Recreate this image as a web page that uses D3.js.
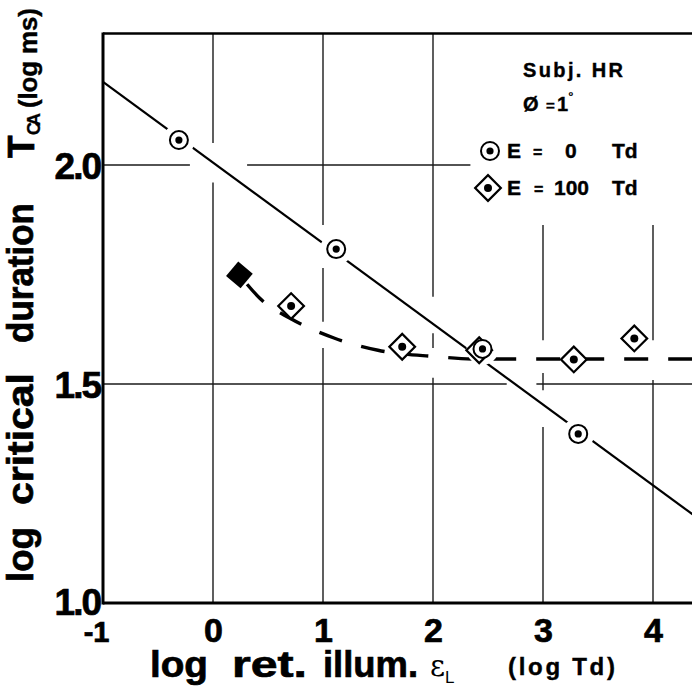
<!DOCTYPE html>
<html>
<head>
<meta charset="utf-8">
<script src="https://cdn.jsdelivr.net/npm/d3@7"></script>
<style>
  body { margin: 0; background: #fff; }
  text { font-family: "Liberation Sans", Arial, sans-serif; font-weight: bold; fill: #000; }
  .heavy { stroke: #000; stroke-width: 0.7px; }
</style>
</head>
<body>
<div id="chart"></div>
<script>
// Data
const circleX = [-0.31, 1.12, 2.45, 3.32];
const circleY = [2.057, 1.808, 1.58, 1.386];

const diamondX = [0.71, 1.72, 2.42, 3.28, 3.83];
const diamondY = [1.678, 1.585, 1.577, 1.556, 1.604];

const filledX = [0.24];
const filledY = [1.749];

// straight fit through the E = 0 points
const fitX = [-1, 4.4];
const fitY = [2.19, 1.195];

// dashed curve for E = 100 Td
const curveX = [0.24, 0.45, 0.7, 1.1, 1.5, 2.0, 2.4, 4.4];
const curveY = [1.749, 1.69, 1.65, 1.605, 1.577, 1.563, 1.557, 1.557];

const xTicks = [-1, 0, 1, 2, 3, 4];
const yTicks = [1.0, 1.5, 2.0];
const yTickLabels = ["1.0", "1.5", "2.0"];

// Dimensions
const width = 692, height = 687;

const svg = d3.select("#chart")
    .append("svg")
    .attr("width", width)
    .attr("height", height);

const x = d3.scaleLinear().domain([-1, 4.4]).range([103, 697]);
const y = d3.scaleLinear().domain([1.0, 2.3]).range([603, 33.6]);

// Grid lines, broken where the curves and markers cross them
const vGrid = [
    {v: 0, segs: [[2.3, 2.05], [1.96, 1.0]]},
    {v: 1, segs: [[2.3, 1.863], [1.765, 1.642], [1.582, 1.0]]},
    {v: 2, segs: [[2.3, 1.699], [1.616, 1.582], [1.514, 1.0]]},
    {v: 3, segs: [[1.863, 1.60], [1.525, 1.486], [1.402, 1.0]]},
    {v: 4, segs: [[1.863, 1.60], [1.509, 1.0]]}
];
const hGrid = [
    {v: 2.0, segs: [[-1, -0.21], [0.31, 2.34]]},
    {v: 1.5, segs: [[-1, 2.67], [2.94, 4.4]]}
];

const grid = svg.append("g")
    .attr("stroke", "#1a1a1a")
    .attr("stroke-width", 1.4);

vGrid.forEach(g => {
    g.segs.forEach(s => {
        grid.append("line")
            .attr("x1", x(g.v)).attr("x2", x(g.v))
            .attr("y1", y(s[0])).attr("y2", y(s[1]));
    });
});
hGrid.forEach(g => {
    g.segs.forEach(s => {
        grid.append("line")
            .attr("x1", x(s[0])).attr("x2", x(s[1]))
            .attr("y1", y(g.v)).attr("y2", y(g.v));
    });
});

// Frame
svg.append("line")
    .attr("x1", x(-1)).attr("x2", x(-1))
    .attr("y1", y(2.3) - 1).attr("y2", y(1.0) + 1.5)
    .attr("stroke", "#000").attr("stroke-width", 3);
svg.append("line")
    .attr("x1", x(-1)).attr("x2", width)
    .attr("y1", y(1.0)).attr("y2", y(1.0))
    .attr("stroke", "#000").attr("stroke-width", 3);
svg.append("line")
    .attr("x1", x(-1)).attr("x2", width)
    .attr("y1", y(2.3)).attr("y2", y(2.3))
    .attr("stroke", "#000").attr("stroke-width", 2.5);

// Axes (labels only)
const xAxis = svg.append("g")
    .attr("transform", `translate(0,${y(1.0)})`)
    .call(d3.axisBottom(x).tickValues(xTicks).tickSize(0).tickFormat(d3.format("d")));
xAxis.select(".domain").remove();
xAxis.selectAll("text")
    .attr("class", "heavy")
    .attr("y", 39)
    .attr("dy", 0)
    .style("font-size", "34px")
    .style("font-family", "Liberation Sans, Arial, sans-serif")
    .style("font-weight", "bold")
    .attr("fill", "#000");
xAxis.selectAll(".tick")
    .filter(d => d === -1)
    .select("text")
    .attr("text-anchor", "end")
    .attr("x", 6)
    .attr("y", 39)
    .style("font-size", "29px")
    .text("-1");

const yAxis = svg.append("g")
    .attr("transform", `translate(${x(-1)},0)`)
    .call(d3.axisLeft(y).tickValues(yTicks).tickSize(0).tickPadding(3)
        .tickFormat((d, i) => yTickLabels[i]));
yAxis.select(".domain").remove();
yAxis.selectAll("text")
    .attr("class", "heavy")
    .attr("dy", "0.36em")
    .style("font-size", "37px")
    .style("font-family", "Liberation Sans, Arial, sans-serif")
    .style("font-weight", "bold")
    .style("letter-spacing", "-2px")
    .attr("fill", "#000");
yAxis.selectAll(".tick")
    .filter(d => d === 1.0)
    .select("text")
    .attr("dy", "0.3em");

// Fitted line and dashed curve
const line = d3.line()
    .x(d => x(d[0]))
    .y(d => y(d[1]));

svg.append("path")
    .datum(fitX.map((v, i) => [v, fitY[i]]))
    .attr("fill", "none")
    .attr("stroke", "#000")
    .attr("stroke-width", 2.2)
    .attr("d", line);

svg.append("path")
    .datum(curveX.map((v, i) => [v, curveY[i]]))
    .attr("fill", "none")
    .attr("stroke", "#000")
    .attr("stroke-width", 3.4)
    .attr("stroke-dasharray", "24,20")
    .attr("stroke-dashoffset", 32)
    .attr("d", line.curve(d3.curveMonotoneX));

// White gaps round the circle markers
const circles = circleX.map((v, i) => [v, circleY[i]]);
svg.append("g")
    .selectAll("circle")
    .data(circles)
    .enter()
    .append("circle")
    .attr("cx", d => x(d[0]))
    .attr("cy", d => y(d[1]))
    .attr("r", 16)
    .attr("fill", "#fff");

// Marker drawers
const diamondPath = d3.symbol().type(d3.symbolSquare).size(330)();

function drawDiamond(g, cx, cy) {
    g.append("path")
        .attr("d", diamondPath)
        .attr("transform", `translate(${cx},${cy}) rotate(45)`)
        .attr("fill", "#fff")
        .attr("stroke", "#000")
        .attr("stroke-width", 2.2);
    g.append("circle")
        .attr("cx", cx).attr("cy", cy)
        .attr("r", 4)
        .attr("fill", "#000");
}

function drawCircle(g, cx, cy) {
    g.append("circle")
        .attr("cx", cx).attr("cy", cy)
        .attr("r", 9)
        .attr("fill", "#fff")
        .attr("stroke", "#000")
        .attr("stroke-width", 2);
    g.append("circle")
        .attr("cx", cx).attr("cy", cy)
        .attr("r", 3.6)
        .attr("fill", "#000");
}

const markers = svg.append("g");

diamondX.forEach((v, i) => drawDiamond(markers, x(v), y(diamondY[i])));
circles.forEach(d => drawCircle(markers, x(d[0]), y(d[1])));

filledX.forEach((v, i) => {
    markers.append("path")
        .attr("d", d3.symbol().type(d3.symbolSquare).size(360)())
        .attr("transform", `translate(${x(v)},${y(filledY[i])}) rotate(40)`)
        .attr("fill", "#000");
});

// Legend
const legend = svg.append("g");
legend.append("text")
    .attr("class", "heavy")
    .attr("x", 523).attr("y", 77)
    .style("font-size", "20px")
    .style("stroke-width", "0.4px")
    .attr("textLength", 100)
    .text("Subj.   HR");

const l2 = legend.append("text").attr("class", "heavy").style("stroke-width", "0.4px")
    .attr("x", 523).attr("y", 111).style("font-size", "20px");
l2.append("tspan").text("Ø");
l2.append("tspan").attr("x", 546).style("font-size", "15px").text("=");
l2.append("tspan").attr("x", 557).text("1");
l2.append("tspan").attr("dy", -10).style("font-size", "13px").style("font-weight", "normal").text("°");

drawCircle(legend, 490, 151);
const l3 = legend.append("text").attr("class", "heavy").style("stroke-width", "0.4px")
    .attr("x", 507).attr("y", 158).style("font-size", "21px");
l3.append("tspan").text("E");
l3.append("tspan").attr("x", 533).style("font-size", "16px").text("=");
l3.append("tspan").attr("x", 565).text("0");
l3.append("tspan").attr("x", 612).text("Td");

drawDiamond(legend, 488, 188);
const l4 = legend.append("text").attr("class", "heavy").style("stroke-width", "0.4px")
    .attr("x", 507).attr("y", 195).style("font-size", "21px");
l4.append("tspan").text("E");
l4.append("tspan").attr("x", 534).style("font-size", "16px").text("=");
l4.append("tspan").attr("x", 554).text("100");
l4.append("tspan").attr("x", 612).text("Td");

// X-axis title
const xTitle = svg.append("g");
[["log", 150, 58], ["ret.", 232, 75], ["illum.", 323, 95]].forEach(w => {
    xTitle.append("text")
        .attr("class", "heavy")
        .attr("x", w[1]).attr("y", 677)
        .style("font-size", "37px")
        .attr("textLength", w[2])
        .attr("lengthAdjust", "spacingAndGlyphs")
        .text(w[0]);
});
xTitle.append("text")
    .attr("x", 430).attr("y", 676)
    .style("font-family", "DejaVu Serif, serif")
    .style("font-weight", "normal")
    .style("font-size", "29px")
    .text("ε");
xTitle.append("text")
    .attr("x", 445).attr("y", 683)
    .style("font-size", "17px")
    .style("font-weight", "normal")
    .text("L");
xTitle.append("text")
    .attr("class", "heavy")
    .style("stroke-width", "0.4px")
    .attr("x", 508).attr("y", 675)
    .style("font-size", "24px")
    .attr("textLength", 107)
    .text("(log  Td)");

// Y-axis title (rotated)
const yTitle = svg.append("g");
[["log", 582, 55], ["critical", 505, 132], ["duration", 343, 140]].forEach(w => {
    yTitle.append("text")
        .attr("class", "heavy")
        .attr("transform", `translate(33,${w[1]}) rotate(-90)`)
        .style("font-size", "37px")
        .attr("textLength", w[2])
        .attr("lengthAdjust", "spacingAndGlyphs")
        .text(w[0]);
});
yTitle.append("text")
    .attr("class", "heavy")
    .attr("transform", "translate(34,158) rotate(-90)")
    .style("font-size", "37px")
    .text("T");
yTitle.append("text")
    .attr("class", "heavy")
    .style("stroke-width", "0.3px")
    .attr("transform", "translate(40,135) rotate(-90)")
    .style("font-size", "18px")
    .attr("textLength", 22)
    .text("CA");
yTitle.append("text")
    .attr("class", "heavy")
    .style("stroke-width", "0.4px")
    .attr("transform", "translate(37,108) rotate(-90)")
    .style("font-size", "26px")
    .attr("textLength", 100)
    .text("(log ms)");
</script>
</body>
</html>
